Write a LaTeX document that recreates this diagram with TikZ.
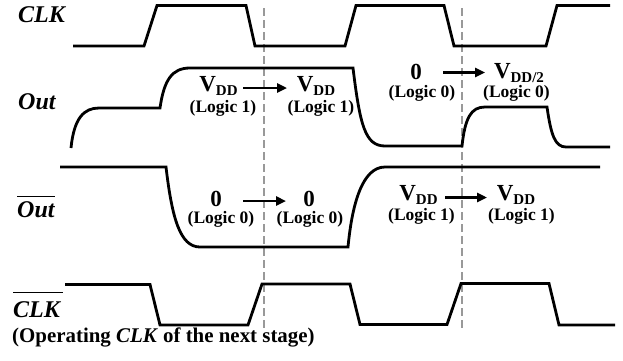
\documentclass[tikz,border=0pt]{standalone}
\usepackage{fontspec}
\setmainfont{Liberation Serif}
\usetikzlibrary{arrows.meta}
\newcommand{\vdd}{V\raisebox{-4pt}{\fontsize{15}{15}\selectfont DD}}
\newcommand{\vddh}{V\raisebox{-3.5pt}{\fontsize{15}{15}\selectfont DD/2}}
\newcommand{\ovl}[2]{\vbox{\hrule height 1.5pt \kern #1\hbox{#2}}}
\tikzset{
  wave/.style={line width=2.8pt, line join=miter},
  guide/.style={draw=black!40, line width=1.3pt, dash pattern=on 8pt off 4pt},
  sig/.style={font=\fontsize{24}{24}\selectfont\bfseries\itshape, inner sep=0pt, anchor=base west},
  val/.style={font=\fontsize{23}{23}\selectfont\bfseries, inner sep=0pt, anchor=base},
  logic/.style={font=\fontsize{17.5}{17.5}\selectfont\bfseries, inner sep=0pt, anchor=base},
  trans/.style={line width=2.4pt, -{Triangle[length=10pt,width=9pt]}},
}
\begin{document}
\begin{tikzpicture}[x=1pt,y=-1pt]
\useasboundingbox (0,0) rectangle (623,360);
% guides
\coordinate (g1t) at (264,8);  \coordinate (g1b) at (264,328);
\coordinate (g2t) at (462,8);  \coordinate (g2b) at (462,328);
\draw[guide] (g1t) -- (g1b);
\draw[guide] (g2t) -- (g2b);
% signal names
\node[sig] (clk) at (18,22) {CLK};
\node[sig] (out) at (18,109) {Out};
\node[sig] (outb) at (17,217) {\ovl{4pt}{Out}};
\node[sig] (clkb) at (13,317) {\ovl{8pt}{CLK\kern3pt}};
\node[font=\fontsize{20.9}{20.9}\selectfont\bfseries, inner sep=0pt, anchor=base west] (note) at (12,342) {(Operating \textit{CLK} of the next stage)};
% CLK
\draw[wave] (73,46) -- (144,46) -- (157,5.5) -- (246,5.5) -- (255,46) -- (345,46) -- (356,5.5) -- (444,5.5) -- (454,46) -- (546,46) -- (557,5.5) -- (610,5.5);
% Out
\draw[wave] (71,148) .. controls (74,118) and (84,108) .. (99,108) -- (160,108)
  .. controls (164,80) and (172,68) .. (190,68) -- (353,68)
  .. controls (360,125) and (365,146) .. (385,146) -- (462,146)
  .. controls (465,118) and (471,107) .. (485,107) -- (547,107)
  .. controls (551,135) and (555,147) .. (566,147) -- (610,147);
% Out bar
\draw[wave] (60,167) -- (166,167)
  .. controls (172,218) and (180,247) .. (200,247) -- (348,247)
  .. controls (352,205) and (362,167) .. (385,167) -- (600,167);
% CLK bar
\draw[wave] (65,284.5) -- (150,284.5) -- (160,325) -- (248,325) -- (262,284) -- (350,284) -- (360,324.5) -- (447,324.5) -- (461,283.5) -- (549,283.5) -- (559,325) -- (615,325);
% Out annotations (left)
\node[val] (v1) at (218.5,91) {\vdd};
\node[logic] (l1) at (223,112) {(Logic 1)};
\node[val] (v2) at (316,91) {\vdd};
\node[logic] (l2) at (321,112) {(Logic 1)};
\coordinate (a1s) at (243,88); \coordinate (a1e) at (287,88);
\draw[trans] (a1s) -- (a1e);
% Out annotations (right)
\node[val] (z1) at (416,79.5) {0};
\node[logic] (l3) at (422,97) {(Logic 0)};
\node[val] (v3) at (519,78.5) {\vddh};
\node[logic] (l4) at (516.5,97.5) {(Logic 0)};
\coordinate (a2s) at (443,72.5); \coordinate (a2e) at (485,72.5);
\draw[trans] (a2s) -- (a2e);
% Out bar annotations (left)
\node[val] (z2) at (216,206) {0};
\node[logic] (l5) at (221,223) {(Logic 0)};
\node[val] (z3) at (309,206) {0};
\node[logic] (l6) at (310,223.5) {(Logic 0)};
\coordinate (a3s) at (243,201); \coordinate (a3e) at (286,201);
\draw[trans] (a3s) -- (a3e);
% Out bar annotations (right)
\node[val] (v4) at (418.5,200) {\vdd};
\node[logic] (l7) at (421.5,220) {(Logic 1)};
\node[val] (v5) at (516,200) {\vdd};
\node[logic] (l8) at (521.5,220) {(Logic 1)};
\coordinate (a4s) at (445,197.5); \coordinate (a4e) at (487,197.5);
\draw[trans] (a4s) -- (a4e);
\end{tikzpicture}
\end{document}
